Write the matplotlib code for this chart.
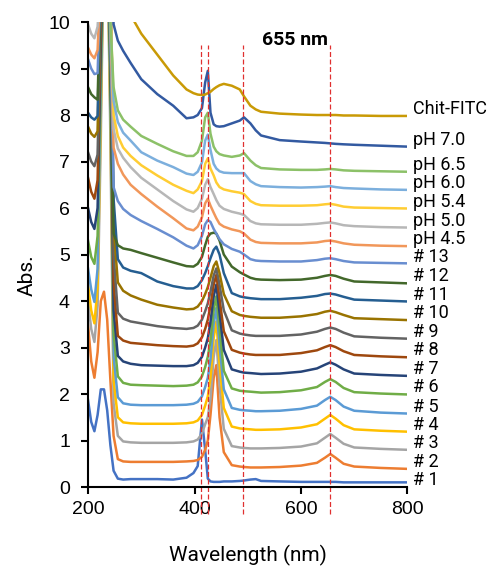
import matplotlib.pyplot as plt

# wavelength grid (nm) shared by all spectra
wl = [200, 206, 212, 218, 224, 230, 236, 242, 248, 256, 266, 280, 300, 330, 360, 385,
      398, 406, 414, 420, 425, 430, 436, 441, 447, 455, 470, 485, 493, 505, 515, 525, 560,
      600, 630, 645, 655, 665, 680, 700, 750, 800]

names = ['# 1', '# 2', '# 3', '# 4', '# 5', '# 6', '# 7', '# 8', '# 9', '# 10', '# 11',
         '# 12', '# 13', 'pH 4.5', 'pH 5.0', 'pH 5.4', 'pH 6.0', 'pH 6.5', 'pH 7.0', 'Chit-FITC']

colors = ['#4472C4', '#ED7D31', '#A5A5A5', '#FFC000', '#5B9BD5', '#70AD47', '#264478',
          '#9E480E', '#636363', '#997300', '#255E91', '#43682B', '#698ED0', '#F1975A',
          '#B7B7B7', '#FFCD33', '#7CAFDD', '#8CC168', '#335AA1', '#C99A06']

s1 = [1.87, 1.4, 1.2, 1.55, 2.1, 2.1, 1.65, 0.9, 0.35, 0.18, 0.16, 0.17, 0.17, 0.17, 0.16, 0.2,
      0.3, 0.45, 1.45, 0.8, 0.18, 0.12, 0.11, 0.11, 0.11, 0.12, 0.12, 0.13, 0.14, 0.16, 0.17, 0.13, 0.12,
      0.11, 0.11, 0.11, 0.11, 0.11, 0.1, 0.1, 0.1, 0.1]
s2 = [3.5, 2.7, 2.35, 2.9, 4.0, 4.2, 3.6, 2.3, 1.1, 0.6, 0.55, 0.54, 0.54, 0.54, 0.54, 0.55,
      0.56, 0.58, 0.65, 0.8, 1.0, 1.55, 2.35, 2.62, 1.5, 0.75, 0.47, 0.44, 0.43, 0.42, 0.42, 0.42, 0.43,
      0.46, 0.52, 0.63, 0.71, 0.63, 0.5, 0.44, 0.41, 0.39]
s3 = [4.0, 3.4, 3.12, 3.9, 7.5, 12, 12, 7.5, 1.8, 1.1, 0.98, 0.96, 0.95, 0.95, 0.95, 0.96,
      0.98, 1.02, 1.15, 1.35, 1.5, 1.9, 2.8, 3.16, 2.2, 1.25, 0.88, 0.85, 0.84, 0.83, 0.83, 0.83, 0.84,
      0.87, 0.94, 1.06, 1.14, 1.06, 0.93, 0.85, 0.82, 0.8]
s4 = [4.35, 3.8, 3.52, 4.3, 8.0, 12, 12, 8.0, 2.3, 1.5, 1.39, 1.37, 1.36, 1.36, 1.36, 1.37,
      1.39, 1.43, 1.55, 1.75, 1.95, 2.35, 3.2, 3.56, 2.65, 1.7, 1.3, 1.26, 1.25, 1.24, 1.23, 1.23, 1.24,
      1.28, 1.35, 1.47, 1.55, 1.47, 1.33, 1.24, 1.21, 1.19]
s5 = [4.7, 4.25, 3.98, 4.7, 8.5, 12, 12, 8.5, 2.8, 1.93, 1.8, 1.77, 1.76, 1.76, 1.76, 1.77,
      1.79, 1.83, 1.95, 2.15, 2.35, 2.75, 3.5, 3.85, 3.05, 2.1, 1.7, 1.66, 1.65, 1.64, 1.63, 1.63, 1.64,
      1.68, 1.75, 1.87, 1.94, 1.87, 1.73, 1.64, 1.6, 1.58]
s6 = [5.3, 4.95, 4.8, 5.4, 9.0, 12, 12, 9.0, 3.3, 2.38, 2.24, 2.2, 2.19, 2.18, 2.17, 2.18,
      2.2, 2.25, 2.38, 2.58, 2.8, 3.15, 3.8, 4.1, 3.4, 2.5, 2.12, 2.07, 2.06, 2.05, 2.04, 2.03, 2.04,
      2.08, 2.15, 2.26, 2.32, 2.26, 2.13, 2.04, 2.01, 1.99]
s7 = [6.0, 5.7, 5.55, 6.0, 9.5, 12, 12, 9.5, 3.8, 2.82, 2.7, 2.65, 2.62, 2.61, 2.6, 2.6,
      2.62, 2.67, 2.8, 3.0, 3.2, 3.55, 4.1, 4.35, 3.75, 2.95, 2.53, 2.48, 2.46, 2.45, 2.44, 2.43, 2.44,
      2.48, 2.55, 2.63, 2.68, 2.63, 2.53, 2.44, 2.41, 2.39]
s8 = [6.65, 6.35, 6.2, 6.6, 10, 12, 12, 10, 4.4, 3.25, 3.15, 3.1, 3.08, 3.05, 3.03, 3.02,
      3.04, 3.09, 3.22, 3.4, 3.6, 3.9, 4.35, 4.56, 4.05, 3.35, 2.95, 2.89, 2.87, 2.85, 2.84, 2.84, 2.84,
      2.88, 2.94, 3.01, 3.05, 3.01, 2.92, 2.84, 2.81, 2.79]
s9 = [7.2, 7.0, 6.9, 7.15, 10.5, 12, 12, 10.5, 5.0, 3.75, 3.62, 3.56, 3.52, 3.46, 3.42, 3.4,
      3.42, 3.47, 3.6, 3.78, 3.95, 4.2, 4.55, 4.7, 4.35, 3.8, 3.37, 3.3, 3.28, 3.26, 3.25, 3.25, 3.25,
      3.28, 3.34, 3.4, 3.43, 3.4, 3.32, 3.24, 3.21, 3.19]
s10 = [7.75, 7.6, 7.53, 7.65, 11, 12, 12, 11, 5.6, 4.4, 4.22, 4.12, 4.03, 3.92, 3.86, 3.82,
       3.83, 3.88, 4.0, 4.15, 4.3, 4.5, 4.75, 4.85, 4.6, 4.15, 3.78, 3.7, 3.68, 3.66, 3.65, 3.64, 3.64,
       3.67, 3.72, 3.77, 3.79, 3.76, 3.7, 3.63, 3.61, 3.59]
s11 = [8.05, 7.95, 7.9, 7.98, 11, 12, 12, 11, 6.2, 4.9, 4.72, 4.65, 4.6, 4.42, 4.32, 4.27,
       4.27, 4.32, 4.45, 4.6, 4.75, 4.92, 5.1, 5.17, 5.0, 4.6, 4.17, 4.1, 4.08, 4.06, 4.05, 4.04, 4.04,
       4.07, 4.11, 4.15, 4.16, 4.14, 4.09, 4.03, 4.01, 3.99]
s12 = [8.6, 8.45, 8.38, 8.33, 11, 12, 12, 9.0, 5.45, 5.2, 5.13, 5.1, 5.03, 4.93, 4.83, 4.75,
       4.74, 4.8, 4.95, 5.2, 5.38, 5.45, 5.47, 5.45, 5.3, 5.0, 4.74, 4.62, 4.57, 4.5, 4.47, 4.46, 4.45,
       4.46, 4.5, 4.54, 4.56, 4.54, 4.48, 4.42, 4.4, 4.38]
s13 = [9.2, 9.0, 8.88, 8.9, 11, 12, 12, 9.5, 6.45, 6.15, 5.98, 5.85, 5.72, 5.55, 5.37, 5.19,
       5.13, 5.2, 5.4, 5.65, 5.74, 5.7, 5.55, 5.45, 5.33, 5.22, 5.12, 5.06, 5.0, 4.9, 4.87, 4.86, 4.85,
       4.85, 4.88, 4.91, 4.92, 4.9, 4.86, 4.83, 4.82, 4.81]
ph45 = [9.45, 9.3, 9.22, 9.4, 11, 12, 12, 10, 7.3, 6.95, 6.72, 6.5, 6.3, 6.03, 5.78, 5.56,
        5.52, 5.6, 5.8, 6.1, 6.2, 6.05, 5.9, 5.78, 5.66, 5.6, 5.54, 5.5, 5.45, 5.32, 5.27, 5.25, 5.24,
        5.24, 5.26, 5.29, 5.3, 5.28, 5.24, 5.21, 5.19, 5.18]
ph50 = [9.95, 9.75, 9.65, 9.9, 11, 12, 12, 10.5, 7.7, 7.28, 7.08, 6.88, 6.65, 6.4, 6.15, 5.97,
        5.92, 6.0, 6.2, 6.5, 6.62, 6.45, 6.3, 6.17, 6.05, 5.98, 5.92, 5.88, 5.85, 5.72, 5.67, 5.65, 5.64,
        5.64, 5.66, 5.68, 5.69, 5.67, 5.63, 5.61, 5.59, 5.58]
ph54 = [12, 12, 12, 12, 12, 12, 12, 10.5, 8.0, 7.55, 7.3, 7.12, 6.92, 6.7, 6.5, 6.37,
        6.32, 6.4, 6.58, 6.95, 7.07, 6.85, 6.7, 6.55, 6.45, 6.4, 6.36, 6.33, 6.3, 6.15, 6.09, 6.06, 6.05,
        6.05, 6.06, 6.08, 6.09, 6.07, 6.03, 6.01, 6.0, 5.99]
ph60 = [12, 12, 12, 12, 12, 12, 12, 10, 8.3, 7.85, 7.62, 7.45, 7.2, 7.02, 6.88, 6.74,
        6.71, 6.78, 6.98, 7.45, 7.58, 7.25, 6.95, 6.85, 6.79, 6.76, 6.75, 6.75, 6.75, 6.58, 6.51, 6.47, 6.45,
        6.44, 6.45, 6.46, 6.47, 6.45, 6.43, 6.42, 6.4, 6.39]
ph65 = [12, 12, 12, 12, 12, 12, 12, 10, 8.6, 8.1, 7.9, 7.75, 7.55, 7.38, 7.22, 7.12,
        7.12, 7.2, 7.45, 7.95, 8.05, 7.6, 7.32, 7.22, 7.16, 7.13, 7.1, 7.13, 7.18, 7.02, 6.92, 6.86, 6.83,
        6.82, 6.82, 6.83, 6.84, 6.83, 6.81, 6.8, 6.79, 6.78]
ph70 = [12, 12, 12, 12, 12, 12, 12, 12, 9.95, 9.6, 9.38, 9.12, 8.77, 8.45, 8.2, 7.93,
        7.95, 8.0, 8.15, 8.7, 8.95, 8.05, 7.8, 7.76, 7.75, 7.76, 7.82, 7.88, 7.95, 7.82, 7.67, 7.56, 7.46,
        7.43, 7.41, 7.4, 7.39, 7.38, 7.37, 7.36, 7.34, 7.32]
fitc = [12, 12, 12, 12, 12, 12, 12, 12, 12, 11.5, 10.5, 10.15, 9.75, 9.3, 8.85, 8.55,
        8.47, 8.44, 8.43, 8.44, 8.47, 8.5, 8.56, 8.6, 8.64, 8.67, 8.63, 8.55, 8.4, 8.2, 8.12, 8.07, 8.03,
        8.01, 8.0, 8.0, 8.0, 8.0, 7.99, 7.99, 7.98, 7.98]

spectra = [s1, s2, s3, s4, s5, s6, s7, s8, s9, s10, s11, s12, s13,
           ph45, ph50, ph54, ph60, ph65, ph70, fitc]

marks = [412, 425, 492, 655]

fig = plt.figure(figsize=(4.89, 5.69), dpi=100)
ax = fig.add_axes([0.18, 0.1441, 0.6533, 0.8172])

for y, c in zip(spectra, colors):
    ax.plot(wl, y, color=c, lw=1.8, solid_joinstyle='round')

# labels sit just above each curve's end, pushed down from the top so they don't collide
lab_y = [y[-1] + 0.15 for y in spectra]
for i in range(len(lab_y) - 2, -1, -1):
    lab_y[i] = min(lab_y[i], lab_y[i + 1] - 0.39)
for ly, n in zip(lab_y, names):
    ax.text(810, ly, n, fontsize=13, family='Roboto', va='center', ha='left', clip_on=False)

ax.vlines(marks, -0.58, 9.5, colors='#E03030', linestyles=(0, (4, 2)), lw=0.9, clip_on=False)
ax.text(588, 9.62, '655 nm', fontsize=14, family='Roboto', fontweight='bold',
        ha='center', va='center')

ax.set_xlim(200, 800)
ax.set_ylim(0, 10)
ax.set_xticks([200, 400, 600, 800])
ax.set_yticks(range(0, 11))
for s in ['top', 'right']:
    ax.spines[s].set_visible(False)
for s in ['left', 'bottom']:
    ax.spines[s].set_linewidth(1.5)
ax.tick_params(direction='out', length=5, width=1.5, labelsize=14)
ax.tick_params(axis='y', pad=8)
ax.tick_params(axis='x', pad=5)
for lab in ax.get_xticklabels() + ax.get_yticklabels():
    lab.set_family('Liberation Sans')

fig.text(0.507, 0.023, 'Wavelength (nm)', fontsize=15, family='Roboto', ha='center', va='center')
fig.text(0.055, 0.517, 'Abs.', fontsize=15, family='Roboto', rotation=90, ha='center', va='center')

fig.savefig('out.png', dpi=100)
